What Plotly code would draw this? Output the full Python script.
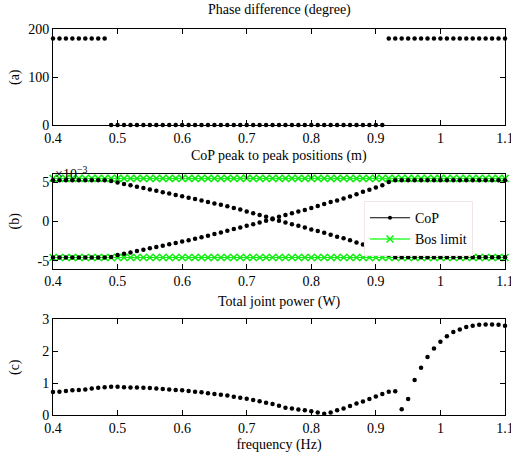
import plotly.graph_objects as go

# ---------------- data ----------------
freq = [0.40, 0.41, 0.42, 0.43, 0.44, 0.45, 0.46, 0.47, 0.48, 0.49,
        0.50, 0.51, 0.52, 0.53, 0.54, 0.55, 0.56, 0.57, 0.58, 0.59,
        0.60, 0.61, 0.62, 0.63, 0.64, 0.65, 0.66, 0.67, 0.68, 0.69,
        0.70, 0.71, 0.72, 0.73, 0.74, 0.75, 0.76, 0.77, 0.78, 0.79,
        0.80, 0.81, 0.82, 0.83, 0.84, 0.85, 0.86, 0.87, 0.88, 0.89,
        0.90, 0.91, 0.92, 0.93, 0.94, 0.95, 0.96, 0.97, 0.98, 0.99,
        1.00, 1.01, 1.02, 1.03, 1.04, 1.05, 1.06, 1.07, 1.08, 1.09, 1.10]

phase_deg = [180, 180, 180, 180, 180, 180, 180, 180, 180, 0,
             0, 0, 0, 0, 0, 0, 0, 0, 0, 0,
             0, 0, 0, 0, 0, 0, 0, 0, 0, 0,
             0, 0, 0, 0, 0, 0, 0, 0, 0, 0,
             0, 0, 0, 0, 0, 0, 0, 0, 0, 0,
             0, 0, 180, 180, 180, 180, 180, 180, 180, 180,
             180, 180, 180, 180, 180, 180, 180, 180, 180, 180, 180]

# CoP peak-to-peak positions, in units of 1e-3 m
cop_upper = [5.25, 5.25, 5.25, 5.25, 5.25, 5.25, 5.25, 5.25, 5.25, 5.18,
             4.97, 4.80, 4.62, 4.44, 4.27, 4.09, 3.92, 3.74, 3.57, 3.39,
             3.22, 3.04, 2.86, 2.69, 2.50, 2.31, 2.14, 1.94, 1.73, 1.52,
             1.28, 1.05, 0.84, 0.59, 0.38, 0.08, -0.13, -0.34, -0.55, -0.78,
             -1.01, -1.22, -1.45, -1.68, -1.94, -2.15, -2.40, -2.69, -2.95, -3.16,
             -3.45, -3.87, -4.21, -4.55, -4.55, -4.55, -4.55, -4.55, -4.55, -4.55,
             -4.55, -4.55, -4.55, -4.55, -4.55, -4.55, -4.55, -4.55, -4.55, -4.55, -4.55]

cop_lower = [-4.60, -4.60, -4.60, -4.60, -4.60, -4.60, -4.60, -4.60, -4.60, -4.52,
             -4.29, -4.13, -3.95, -3.78, -3.60, -3.43, -3.25, -3.08, -2.90, -2.73,
             -2.55, -2.38, -2.20, -2.02, -1.81, -1.60, -1.39, -1.18, -0.97, -0.76,
             -0.55, -0.34, -0.13, 0.08, 0.29, 0.59, 0.84, 1.05, 1.26, 1.47,
             1.73, 1.98, 2.23, 2.48, 2.69, 2.95, 3.20, 3.49, 3.79, 4.04,
             4.33, 4.63, 5.05, 5.25, 5.25, 5.25, 5.25, 5.25, 5.25, 5.25,
             5.25, 5.25, 5.25, 5.25, 5.25, 5.25, 5.25, 5.25, 5.25, 5.25, 5.25]

bos_upper = [5.5] * 71
bos_lower = [-4.6] * 71

power_w = [0.72, 0.73, 0.75, 0.77, 0.78, 0.80, 0.83, 0.85, 0.87, 0.88,
           0.88, 0.87, 0.86, 0.86, 0.85, 0.84, 0.83, 0.81, 0.80, 0.78,
           0.77, 0.75, 0.73, 0.71, 0.68, 0.66, 0.63, 0.61, 0.57, 0.54,
           0.51, 0.47, 0.43, 0.38, 0.34, 0.29, 0.23, 0.20, 0.17, 0.15,
           0.12, 0.08, 0.04, 0.08, 0.15, 0.20, 0.28, 0.36, 0.42, 0.50,
           0.58, 0.66, 0.73, 0.74, 0.18, 0.50, 1.09, 1.48, 1.81, 2.08,
           2.29, 2.46, 2.59, 2.67, 2.75, 2.79, 2.82, 2.83, 2.83, 2.82, 2.79]

x_ticks = [0.4, 0.5, 0.6, 0.7, 0.8, 0.9, 1.0, 1.1]
x_ticktext = ["0.4", "0.5", "0.6", "0.7", "0.8", "0.9", "1", "1.1"]

# ---------------- figure ----------------
FONT = "Liberation Serif, Times New Roman, serif"
GREEN = "#11ee11"

fig = go.Figure()

dot = dict(color="black", size=4.5)
xmark = dict(symbol="x-thin", size=7, line=dict(color=GREEN, width=1.5))

fig.add_trace(go.Scatter(x=freq, y=phase_deg, mode="markers", marker=dot,
                         xaxis="x", yaxis="y", showlegend=False, cliponaxis=False))

fig.add_trace(go.Scatter(x=freq, y=bos_upper, mode="lines+markers",
                         line=dict(color=GREEN, width=1), marker=xmark,
                         xaxis="x2", yaxis="y2", showlegend=False, cliponaxis=False))
fig.add_trace(go.Scatter(x=freq, y=bos_lower, mode="lines+markers",
                         line=dict(color=GREEN, width=1), marker=xmark,
                         xaxis="x2", yaxis="y2", showlegend=False, cliponaxis=False))
fig.add_trace(go.Scatter(x=freq, y=cop_upper, mode="markers", marker=dot,
                         xaxis="x2", yaxis="y2", showlegend=False, cliponaxis=False))
fig.add_trace(go.Scatter(x=freq, y=cop_lower, mode="markers", marker=dot,
                         xaxis="x2", yaxis="y2", showlegend=False, cliponaxis=False))

# legend entries
fig.add_trace(go.Scatter(x=[None], y=[None], mode="lines+markers", name="CoP",
                         line=dict(color="black", width=1),
                         marker=dict(color="black", size=4),
                         xaxis="x2", yaxis="y2"))
fig.add_trace(go.Scatter(x=[None], y=[None], mode="lines+markers", name="Bos limit",
                         line=dict(color="#66ff66", width=2), marker=xmark,
                         xaxis="x2", yaxis="y2"))

fig.add_trace(go.Scatter(x=freq, y=power_w, mode="markers", marker=dot,
                         xaxis="x3", yaxis="y3", showlegend=False, cliponaxis=False))

axis_common = dict(showline=True, linecolor="black", linewidth=1, mirror="ticks",
                   ticks="inside", ticklen=5, tickcolor="black", showgrid=False,
                   zeroline=False, automargin=False, ticklabeloverflow="allow",
                   tickfont=dict(family=FONT, size=14, color="black"))

xcommon = dict(axis_common, range=[0.4, 1.1], tickvals=x_ticks, ticktext=x_ticktext,
               domain=[0, 1])

fig.update_layout(
    width=511, height=458,
    margin=dict(l=53, r=6, t=29, b=43),
    paper_bgcolor="white", plot_bgcolor="white",
    font=dict(family=FONT, size=14, color="black"),
    xaxis=dict(xcommon, anchor="y"),
    yaxis=dict(axis_common, domain=[0.7513, 1.0], range=[0, 200],
               tickvals=[0, 100, 200], anchor="x"),
    xaxis2=dict(xcommon, anchor="y2"),
    yaxis2=dict(axis_common, domain=[0.3795, 0.6231], range=[-6, 6],
                tickvals=[-5, 0, 5], ticktext=["-5", "0", "5"], anchor="x2"),
    xaxis3=dict(xcommon, anchor="y3",
                title=dict(text="frequency (Hz)", standoff=4,
                           font=dict(family=FONT, size=14, color="black"))),
    yaxis3=dict(axis_common, domain=[0.0, 0.2487], range=[0, 3],
                tickvals=[0, 1, 2, 3], anchor="x3"),
    legend=dict(x=0.688, y=0.554, xanchor="left", yanchor="top",
                bgcolor="white", bordercolor="#f3e6e6", borderwidth=1,
                font=dict(family=FONT, size=14, color="black"),
                itemwidth=40, tracegroupgap=2),
    showlegend=True,
)

ann_font = dict(family=FONT, size=14, color="black")
annotations = [
    dict(text="Phase difference (degree)", x=0.5, y=1.0, xref="paper", yref="paper",
         xanchor="center", yanchor="bottom", yshift=9, showarrow=False, font=ann_font),
    dict(text="CoP peak to peak positions (m)", x=0.5, y=0.6231, xref="paper", yref="paper",
         xanchor="center", yanchor="bottom", yshift=8, showarrow=False, font=ann_font),
    dict(text="Total joint power (W)", x=0.5, y=0.2487, xref="paper", yref="paper",
         xanchor="center", yanchor="bottom", yshift=7, showarrow=False, font=ann_font),
    dict(text="(a)", x=-0.084, y=(0.7513 + 1.0) / 2, xref="paper", yref="paper",
         textangle=-90, xanchor="center", yanchor="middle", showarrow=False, font=ann_font),
    dict(text="(b)", x=-0.084, y=(0.3795 + 0.6231) / 2, xref="paper", yref="paper",
         textangle=-90, xanchor="center", yanchor="middle", showarrow=False, font=ann_font),
    dict(text="(c)", x=-0.084, y=(0.0 + 0.2487) / 2, xref="paper", yref="paper",
         textangle=-90, xanchor="center", yanchor="middle", showarrow=False, font=ann_font),
    dict(text="×10<sup>−3</sup>", x=0.0, y=0.6231, xref="paper", yref="paper",
         xanchor="left", yanchor="middle", yshift=1, showarrow=False,
         font=dict(family=FONT, size=14, color="black")),
]
fig.update_layout(annotations=annotations)

fig.write_html("out.html", config={"displayModeBar": False},
               post_script="document.body.style.margin='0';document.body.style.padding='0';")
